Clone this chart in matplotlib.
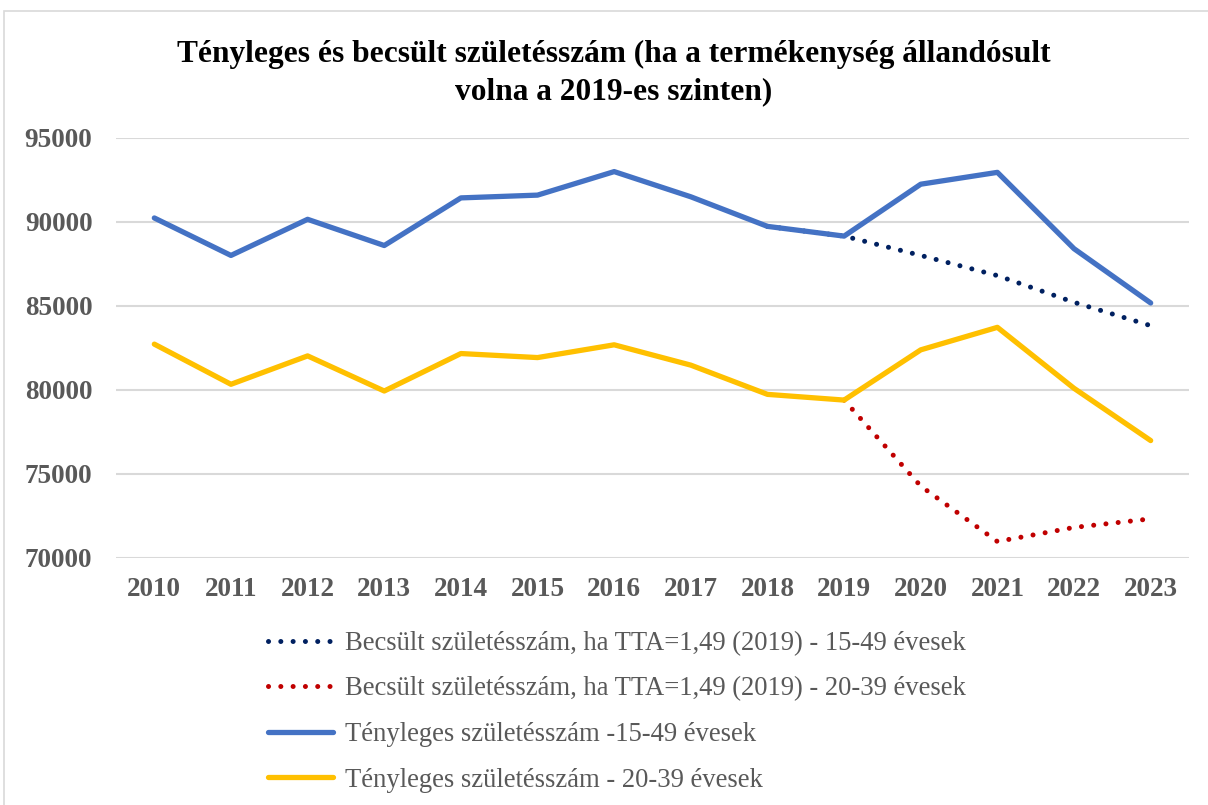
import matplotlib
matplotlib.use("Agg")
import matplotlib.pyplot as plt
from matplotlib.patches import Rectangle

years = [2010, 2011, 2012, 2013, 2014, 2015, 2016, 2017, 2018, 2019, 2020, 2021, 2022, 2023]
actual_15_49 = [90240, 88010, 90160, 88600, 91435, 91600, 93000, 91500, 89740, 89160, 92250, 92955, 88410, 85180]
actual_20_39 = [82730, 80340, 82030, 79940, 82170, 81930, 82690, 81480, 79740, 79400, 82390, 83730, 80100, 76990]
est_years = [2018, 2019, 2020, 2021, 2022, 2023]
est_15_49 = [89740, 89160, 88010, 86810, 85220, 83830]
est_20_39_years = [2019, 2020, 2021, 2022, 2023]
est_20_39 = [79400, 74280, 70980, 71820, 72330]
yticks = [70000, 75000, 80000, 85000, 90000, 95000]

labels = [
    "Becsült születésszám, ha TTA=1,49 (2019) - 15-49 évesek",
    "Becsült születésszám, ha TTA=1,49 (2019) - 20-39 évesek",
    "Tényleges születésszám -15-49 évesek",
    "Tényleges születésszám - 20-39 évesek",
]

plt.rcParams['font.family'] = ['Liberation Serif', 'DejaVu Serif']

fig = plt.figure(figsize=(12.08, 8.05), dpi=100)
ax = fig.add_axes([116/1208, 1-558/805, (1189-116)/1208, (558-138)/805])

idx = {y: i for i, y in enumerate(years)}
x_all = [idx[y] for y in years]
x_e1 = [idx[y] for y in est_years]
x_e2 = [idx[y] for y in est_20_39_years]

dot = (0, (0.01, 2.45))
l1, = ax.plot(x_e1, est_15_49, color='#002060', lw=3.6, linestyle=dot,
              dash_capstyle='round', zorder=3)
l2, = ax.plot(x_e2, est_20_39, color='#C00000', lw=3.6, linestyle=dot,
              dash_capstyle='round', zorder=3)
l3, = ax.plot(x_all, actual_15_49, color='#4472C4', lw=3.8,
              solid_capstyle='round', solid_joinstyle='round', zorder=4)
l4, = ax.plot(x_all, actual_20_39, color='#FFC000', lw=3.8,
              solid_capstyle='round', solid_joinstyle='round', zorder=4)

ax.set_xlim(-0.5, len(years) - 0.5)
ax.set_ylim(70000, 95000)
ax.set_yticks(yticks)
ax.set_yticklabels([str(v) for v in yticks])
ax.set_xticks(x_all)
ax.set_xticklabels([str(y) for y in years])
ax.grid(axis='y', color='#D9D9D9', lw=1.5)
ax.set_axisbelow(True)
for s in ax.spines.values():
    s.set_visible(False)
ax.tick_params(length=0, colors='#595959', labelsize=19.5)
ax.tick_params(axis='x', pad=14)
ax.tick_params(axis='y', pad=17)
for t in ax.get_xticklabels() + ax.get_yticklabels():
    t.set_fontweight('bold')

fig.text(0.508, 1-54/805, "Tényleges és becsült születésszám (ha a termékenység állandósult",
         ha='center', va='center', fontsize=22.6, fontweight='bold', color='black')
fig.text(0.508, 1-92/805, "volna a 2019-es szinten)",
         ha='center', va='center', fontsize=22.6, fontweight='bold', color='black')

leg = fig.legend([l1, l2, l3, l4], labels, loc='upper left',
                 bbox_to_anchor=(244/1208, 1-607/805), frameon=False,
                 fontsize=19.2, handlelength=2.45, handletextpad=0.45,
                 labelspacing=0.77, labelcolor='#595959')

fig.patches.append(Rectangle((4/1208, -0.01), 1.02, 1-11/805 + 0.01,
                             transform=fig.transFigure, fill=False,
                             edgecolor='#D9D9D9', lw=1.2))

fig.savefig('out.png', dpi=100)
